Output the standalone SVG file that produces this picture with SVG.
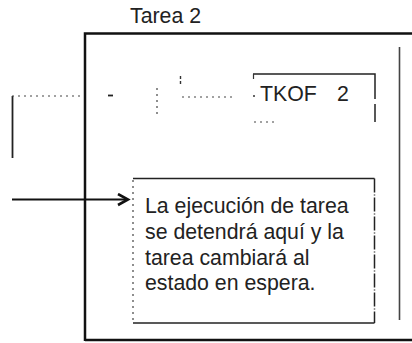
<svg xmlns="http://www.w3.org/2000/svg" width="412" height="343" viewBox="0 0 412 343">
<style>
text{font-family:"Liberation Sans",Arial,sans-serif;fill:#222;font-size:21.3px}
.frame{fill:none;stroke:#111;stroke-width:2.5}
.thin{fill:none;stroke:#222;stroke-width:1.5}
.dot{fill:none;stroke:#444;stroke-width:1.2;stroke-dasharray:2 4}
.dash{fill:none;stroke:#222;stroke-width:1.5;stroke-dasharray:14 2 1 2}
</style>
<defs>
<marker id="ah" markerWidth="14" markerHeight="14" refX="11" refY="7" orient="auto" markerUnits="userSpaceOnUse">
<path d="M1,1.5 L11,7 L1,12.5" fill="none" stroke="#111" stroke-width="2.6"/>
</marker>
</defs>
<g id="title"><text x="130" y="23">Tarea 2</text></g>
<g id="frame">
<path class="frame" d="M85,341 V33.5 H412"/>
<path class="frame" d="M85,340 H412" stroke-width="3"/>
<path d="M399.5,47 V320" fill="none" stroke="#444" stroke-width="1.6"/>
</g>
<g id="connectors">
<path d="M12.5,158 V96" fill="none" stroke="#222" stroke-width="1.8"/>
<path class="dot" d="M12,96 H84" stroke-dasharray="5 3 3 5 2 8 2 6"/>
<path d="M108,95.5 H113" stroke="#222" stroke-width="1.8"/>
<path class="dot" d="M157,88 V115" stroke-dasharray="2 4"/>
<path d="M180.5,76 V86" stroke="#333" stroke-width="1.4" stroke-dasharray="3 2"/>
<path class="dot" d="M182,97 H232" stroke-dasharray="2 2 2 6 2 8"/>
<path d="M253,96 H255" stroke="#333" stroke-width="1.4"/>
<path d="M12,199.5 H128" fill="none" stroke="#111" stroke-width="2.2" marker-end="url(#ah)"/>
</g>
<g id="tkof">
<path class="thin" d="M253,74 H375 V122"/>
<path d="M375,99 V104" stroke="#fff" stroke-width="3"/>
<path d="M253.5,74 V79" stroke="#333" stroke-width="1.2"/>
<path class="dot" d="M254,122 H274" stroke-dasharray="2 6"/>
<text x="260" y="101">TKOF<tspan x="337">2</tspan></text>
</g>
<g id="note">
<path class="thin" d="M133,178.5 H374.5"/>
<path class="thin" d="M133,323 H374.5"/>
<path class="dash" d="M374.5,178.5 V323"/>
<path class="dot" d="M133,180 V320" stroke-dasharray="1.5 11"/>
<text x="145" y="213">La ejecución de tarea</text>
<text x="145" y="239">se detendrá aquí y la</text>
<text x="145" y="264.5">tarea cambiará al</text>
<text x="145" y="290">estado en espera.</text>
</g>
</svg>
